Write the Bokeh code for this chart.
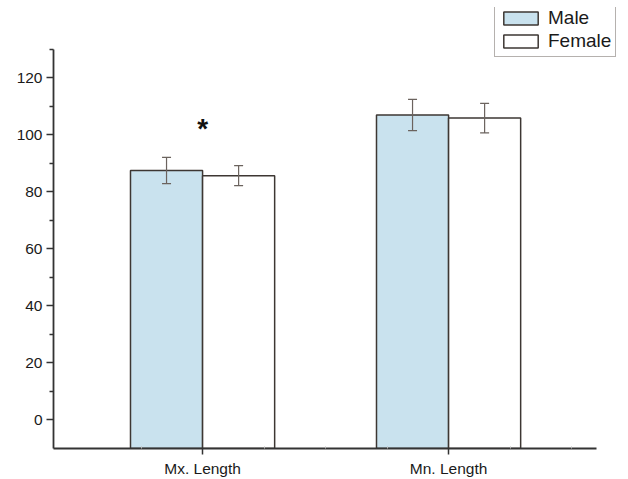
from bokeh.plotting import figure
from bokeh.models import (ColumnDataSource, Whisker, TeeHead, FixedTicker, Legend, LegendItem,
                          Range1d, Label)
from bokeh.embed import file_html
from bokeh.resources import INLINE

categories = ["Mx. Length", "Mn. Length"]
male_mean = [87.5, 107.0]
male_err = [4.6, 5.5]
female_mean = [85.7, 105.9]
female_err = [3.5, 5.2]
series = ["Male", "Female"]
bar_colors = ["#c9e2ee", "#ffffff"]
sig_marks = ["*", ""]

y_lo, y_hi = -10, 130
x_lo, x_hi = 0.394, 2.6

pos = [i + 1 for i in range(len(categories))]
bw = 0.293

p = figure(width=628, height=479, output_backend="svg", toolbar_location=None,
           x_range=Range1d(x_lo, 2.707), y_range=Range1d(y_lo, 144.7),
           min_border_left=53, min_border_top=7, min_border_right=6, min_border_bottom=31)
p.outline_line_color = None
p.xgrid.visible = False
p.ygrid.visible = False
p.background_fill_color = "white"

renderers = []
for k, (name, means, errs, col) in enumerate(zip(series, [male_mean, female_mean],
                                                   [male_err, female_err], bar_colors)):
    off = (-0.5 + k) * bw
    xs = [x + off for x in pos]
    src = ColumnDataSource(dict(x=xs, top=means,
                                upper=[m + e for m, e in zip(means, errs)],
                                lower=[m - e for m, e in zip(means, errs)]))
    r = p.vbar(x="x", top="top", bottom=y_lo, width=bw, source=src, fill_color=col,
               line_color="#3d3733", line_width=1.5)
    renderers.append(r)
    w = Whisker(base="x", upper="upper", lower="lower", source=src,
                line_color="#6b635e", line_width=1.2, level="annotation",
                upper_head=TeeHead(size=9, line_color="#6b635e", line_width=1.2),
                lower_head=TeeHead(size=9, line_color="#6b635e", line_width=1.2))
    p.add_layout(w)

# significance marks
for x, m, u, s in zip(pos, male_mean, male_err, sig_marks):
    if s:
        p.add_layout(Label(x=x, y=m + u + 10, text=s, text_align="center",
                           text_baseline="middle", text_font="Liberation Sans",
                           text_font_style="bold",
                           text_font_size="28px", text_color="#111111"))

ax_col = "#333333"
p.xaxis.ticker = FixedTicker(ticks=pos, minor_ticks=[0.75, 1.25, 1.5, 1.75, 2.25, 2.5])
p.xaxis.major_label_overrides = {x: c for x, c in zip(pos, categories)}
p.xaxis.bounds = (x_lo, x_hi)
p.yaxis.ticker = FixedTicker(ticks=list(range(0, 121, 20)), minor_ticks=list(range(10, 131, 20)))
p.yaxis.bounds = (y_lo, y_hi)
for ax in (p.xaxis[0], p.yaxis[0]):
    ax.axis_line_color = ax_col
    ax.axis_line_width = 1.8
    ax.major_tick_line_color = ax_col
    ax.minor_tick_line_color = "#bbbbbb"
    ax.major_tick_line_width = 1.5
    ax.major_label_text_font = "Liberation Sans"
    ax.major_label_text_color = "#1a1a1a"
p.yaxis.major_label_text_font_size = "15.5px"
p.xaxis.major_label_text_font_size = "15.5px"
p.yaxis.major_tick_out = 7
p.yaxis.major_tick_in = 0
p.yaxis.minor_tick_out = 4
p.yaxis.minor_tick_in = 0
p.yaxis.minor_tick_line_color = ax_col
p.yaxis.minor_tick_line_width = 1.3
p.yaxis.major_label_standoff = 4
p.xaxis.major_tick_out = 6
p.xaxis.major_tick_in = 0
p.xaxis.minor_tick_out = 0
p.xaxis.minor_tick_in = 2
p.xaxis.major_label_standoff = 5

legend = Legend(items=[LegendItem(label=s, renderers=[r]) for s, r in zip(series, renderers)],
                location=(441, 391), orientation="vertical",
                label_text_font="Liberation Sans", label_text_font_size="19px",
                label_text_color="#1a1a1a", glyph_width=43, glyph_height=16,
                label_standoff=6, spacing=1, padding=4, margin=0,
                border_line_color="#6b635e", border_line_width=1.3,
                background_fill_color="white", background_fill_alpha=1.0,
                label_height=16)
p.add_layout(legend, "center")

open("out.html", "w").write(file_html(p, INLINE))
